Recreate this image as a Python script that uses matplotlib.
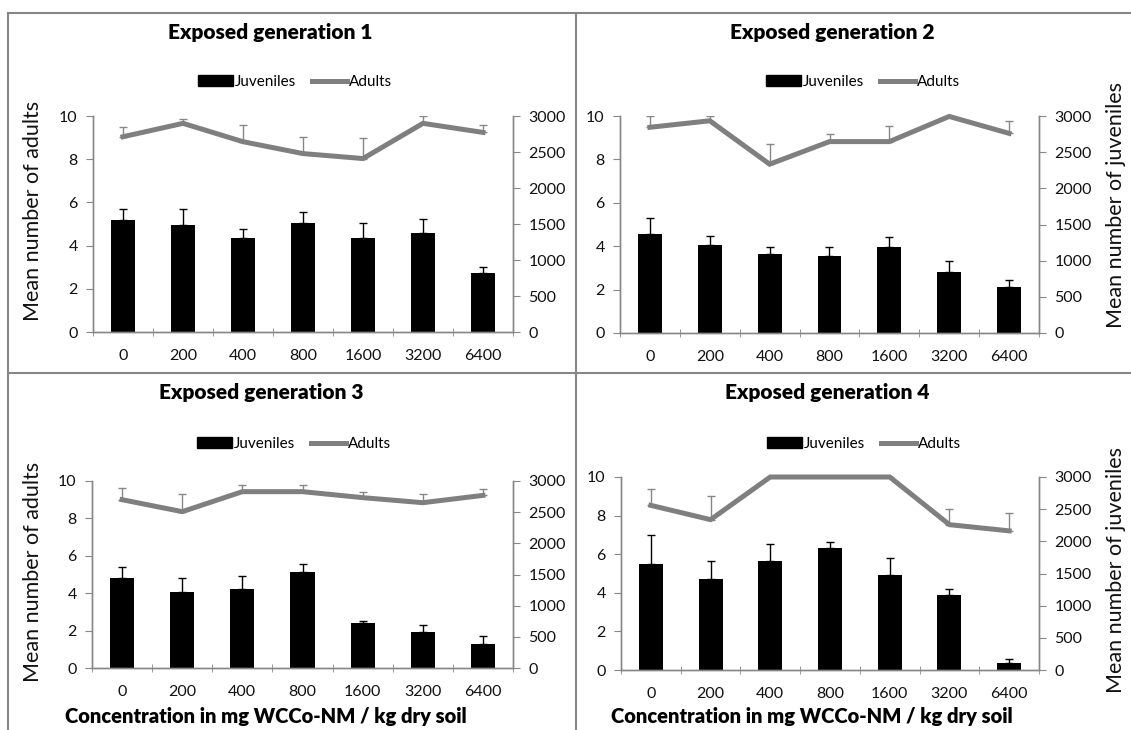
import numpy as np
import matplotlib
matplotlib.use('Agg')
from matplotlib import pyplot as plt
from matplotlib.lines import Line2D
from matplotlib.patches import Patch

plt.rcParams['font.family'] = ['Lato', 'DejaVu Sans']

conc = ['0', '200', '400', '800', '1600', '3200', '6400']

# juveniles (right axis) and adults (left axis), upper error only
juv_g1 = [1555, 1485, 1305, 1520, 1305, 1380, 815]
juv_g1_err = [155, 225, 130, 145, 205, 190, 85]
adu_g1 = [9.04, 9.66, 8.81, 8.26, 8.03, 9.66, 9.24]
adu_g1_err = [0.43, 0.22, 0.76, 0.78, 0.95, 0.34, 0.34]

juv_g2 = [1375, 1220, 1095, 1070, 1190, 840, 632]
juv_g2_err = [220, 120, 95, 120, 135, 150, 95]
adu_g2 = [9.48, 9.78, 7.78, 8.82, 8.82, 9.98, 9.2]
adu_g2_err = [0.52, 0.22, 0.94, 0.35, 0.72, 0.3, 0.57]

juv_g3 = [1443, 1215, 1272, 1545, 717, 579, 384]
juv_g3_err = [177, 234, 198, 123, 42, 111, 129]
adu_g3 = [9.0, 8.36, 9.43, 9.43, 9.11, 8.84, 9.23]
adu_g3_err = [0.64, 0.96, 0.37, 0.37, 0.30, 0.45, 0.34]

juv_g4 = [1641, 1422, 1701, 1893, 1479, 1167, 114]
juv_g4_err = [450, 279, 261, 96, 261, 93, 51]
adu_g4 = [8.53, 7.79, 10.0, 10.0, 10.0, 7.53, 7.21]
adu_g4_err = [0.85, 1.24, 0.4, 0.4, 0.4, 0.83, 0.92]

W, H = 1131, 730
fig = plt.figure(figsize=(W / 100, H / 100), dpi=100)
GREY = '#878787'
LINE = '#7f7f7f'
TXT = '#111111'


def fx(x):
    return x / W


def fy(y):
    return 1 - y / H


def panel(box, title, tpos, lpos, juv, juv_err, adu, adu_err, left_label, right_label, xlabel):
    l, r, t, b = box
    ax = fig.add_axes([fx(l), fy(b), fx(r - l), (b - t) / H])
    ax2 = ax.twinx()
    ax.set_zorder(ax2.get_zorder() + 1)
    ax.patch.set_visible(False)
    x = np.arange(len(conc))

    ax2.bar(x, juv, width=0.4, color='black', zorder=2)
    ax2.errorbar(x, juv, yerr=[np.zeros(len(juv)), juv_err], fmt='none',
                 ecolor='black', elinewidth=1, capsize=3, capthick=1)
    ax.errorbar(x, adu, yerr=[np.zeros(len(adu)), adu_err], fmt='none',
                ecolor=GREY, elinewidth=1, capsize=3, capthick=1)
    ax.plot(x, adu, color=LINE, lw=3.6, solid_joinstyle='miter', clip_on=False)

    ax.set_xlim(-0.5, len(conc) - 0.5)
    ax.set_ylim(0, 10)
    ax2.set_ylim(0, 3000)
    ax.set_yticks(np.arange(0, 11, 2))
    ax2.set_yticks(np.arange(0, 3001, 500))
    ax.set_xticks(x)
    ax.set_xticklabels(conc)
    ax.set_xticks(np.arange(-0.5, len(conc)), minor=True)

    for a in (ax, ax2):
        a.spines['top'].set_visible(False)
        for s in ('left', 'right', 'bottom'):
            a.spines[s].set_color(GREY)
            a.spines[s].set_linewidth(1)
    ax.tick_params(axis='x', which='major', length=0, pad=12, labelsize=11.5, colors=TXT)
    ax.tick_params(axis='x', which='minor', length=6, direction='inout', color=GREY)
    ax.tick_params(axis='y', length=5, color=GREY, labelsize=11.5, labelcolor=TXT, pad=6)
    ax2.tick_params(axis='y', length=5, color=GREY, labelsize=11.5, labelcolor=TXT, pad=6)

    fig.text(fx(tpos[0]), fy(tpos[1]), title, ha='center', va='center',
             fontsize=15, fontweight='heavy', color='black')

    handles = [Patch(facecolor='black', edgecolor='black'),
               Line2D([0], [0], color=LINE, lw=3.6)]
    fig.legend(handles, ['Juveniles', 'Adults'], loc='center',
               bbox_to_anchor=(fx(lpos[0]), fy(lpos[1])), ncol=2, frameon=False,
               fontsize=11, handlelength=2.3, handleheight=0.7, handletextpad=0.15,
               columnspacing=1.0, borderaxespad=0)

    if left_label:
        fig.text(fx(left_label[0]), fy(left_label[1]), 'Mean number of adults',
                 rotation=90, ha='center', va='center', fontsize=15.5, color=TXT)
    if right_label:
        fig.text(fx(right_label[0]), fy(right_label[1]), 'Mean number of juveniles',
                 rotation=90, ha='center', va='center', fontsize=15.5, color=TXT)
    if xlabel:
        fig.text(fx(xlabel[0]), fy(xlabel[1]), 'Concentration in mg WCCo-NM / kg dry soil',
                 ha='center', va='center', fontsize=14.5, fontweight='heavy', color='black')


panel((93, 513, 116, 332), 'Exposed generation 1', (270, 33), (295, 82),
      juv_g1, juv_g1_err, adu_g1, adu_g1_err, (33, 211), None, None)
panel((620, 1039, 116, 333), 'Exposed generation 2', (832, 33), (863, 82),
      juv_g2, juv_g2_err, adu_g2, adu_g2_err, None, (1116, 205), None)
panel((92, 513, 481, 668), 'Exposed generation 3', (261, 393), (294, 444),
      juv_g3, juv_g3_err, adu_g3, adu_g3_err, (33, 572), None, (266, 717))
panel((621, 1039, 477, 670), 'Exposed generation 4', (827, 393), (864, 444),
      juv_g4, juv_g4_err, adu_g4, adu_g4_err, None, (1116, 570), (812, 717))

# panel frame lines
frame = dict(color=GREY, lw=1.5, transform=fig.transFigure, clip_on=False)
fig.add_artist(Line2D([fx(8), 1], [fy(13), fy(13)], **frame))
fig.add_artist(Line2D([fx(8), 1], [fy(373), fy(373)], **frame))
fig.add_artist(Line2D([fx(8), fx(8)], [fy(13), 0], **frame))
fig.add_artist(Line2D([fx(576), fx(576)], [fy(13), 0], **frame))

fig.savefig('out.png', dpi=100)
